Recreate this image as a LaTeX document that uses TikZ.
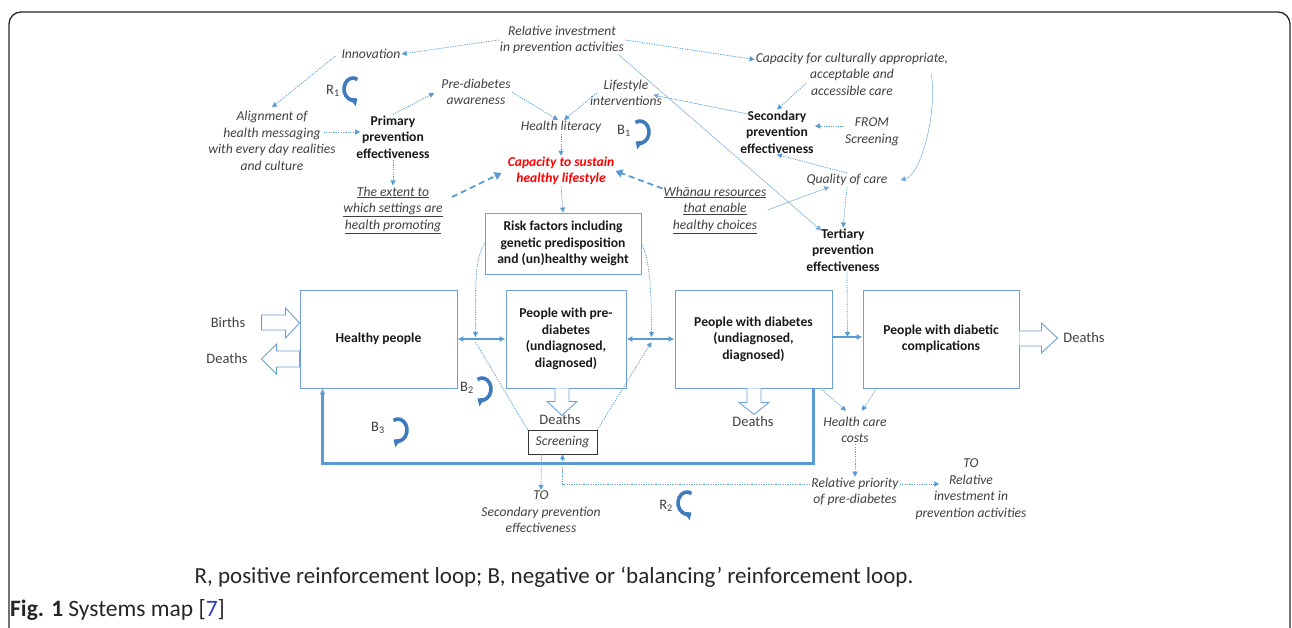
\documentclass[tikz,border=0pt]{standalone}
\usepackage{fontspec}
\setmainfont{Carlito}
\usetikzlibrary{arrows.meta}
\definecolor{lblue}{RGB}{91,155,213}
\definecolor{bblue}{RGB}{110,160,215}
\definecolor{dblue}{RGB}{62,122,188}
\definecolor{tgray}{RGB}{64,64,64}
\definecolor{tred}{RGB}{255,0,0}
\definecolor{refblue}{RGB}{40,60,200}
\begin{document}
\begin{tikzpicture}[x=1pt,y=-1pt,
  lab/.style={font=\fontsize{13.6}{16.5}\selectfont\itshape, text=tgray, align=center, inner sep=1pt},
  bld/.style={font=\fontsize{13.6}{16.5}\selectfont\bfseries, text=black!90, align=center, inner sep=1pt},
  stock/.style={draw=bblue, line width=0.9pt, bld},
  reg/.style={font=\fontsize{14.5}{16}\selectfont, text=tgray, inner sep=1pt},
  dot/.style={draw=lblue, line width=0.8pt, dash pattern=on 1.2pt off 1.2pt, -{Triangle[length=5pt,width=5pt]}},
  solidln/.style={draw=lblue!85, line width=0.5pt, -{Triangle[length=5pt,width=5pt]}},
  dsh/.style={draw=lblue, line width=1.8pt, dash pattern=on 6pt off 4pt, -{Triangle[length=7pt,width=8pt]}},
  flow/.style={draw=lblue, line width=2pt},
  hollow/.style={draw=bblue, line width=0.9pt, fill=white},
  loopsym/.style={draw=dblue, line width=3.6pt, -{Triangle[length=6pt,width=10pt]}},
]
\useasboundingbox (0,0) rectangle (1292,628);
\begin{scope}
\clip (0,0) rectangle (1292,628);
\draw[rounded corners=12pt, line width=1.3pt, draw=black!85] (9,12) rectangle (1290,700);
\end{scope}

% ---- text nodes (upper part)
\node[lab] (rel) at (562,40) {Relative investment\\in prevention activities};
\node[lab] (innov) at (371,54) {Innovation};
\node[lab] (cap) at (852,74) {Capacity for culturally appropriate,\\acceptable and\\accessible care};
\node[lab] (pda) at (476,92) {Pre-diabetes\\awareness};
\node[lab] (life) at (626,93) {Lifestyle\\interventions};
\node[lab] (align) at (272,141) {Alignment of\\health messaging\\with every day realities\\and culture};
\node[bld] (prim) at (393,137) {Primary\\prevention\\effectiveness};
\node[lab] (hlit) at (561,127) {Health literacy};
\node[bld] (sec) at (777,132) {Secondary\\prevention\\effectiveness};
\node[lab] (fromscr) at (872,132) {FROM\\Screening};
\node[lab, text=tred, font=\fontsize{13.6}{16.5}\selectfont\bfseries\itshape] (sust) at (561,171) {Capacity to sustain\\healthy lifestyle};
\node[lab] (extent) at (393,210) {\underline{The extent to}\\\underline{which settings are}\\\underline{health promoting}};
\node[lab] (whanau) at (715,210) {\underline{Whānau resources}\\\underline{that enable}\\\underline{healthy choices}};
\node[lab] (qual) at (847,180) {Quality of care};
\node[bld] (tert) at (843,250) {Tertiary\\prevention\\effectiveness};

% ---- stocks
\node[stock, minimum width=156pt, minimum height=61pt] (risk) at (563,243.5) {Risk factors including\\genetic predisposition\\and (un)healthy weight};
\node[stock, minimum width=157pt, minimum height=98pt] (healthy) at (378.5,339) {Healthy people};
\node[stock, minimum width=120pt, minimum height=98pt] (pre) at (566,339) {People with pre-\\diabetes\\(undiagnosed,\\diagnosed)};
\node[stock, minimum width=157pt, minimum height=98pt] (dia) at (753.5,339) {People with diabetes\\(undiagnosed,\\diagnosed)};
\node[stock, minimum width=156pt, minimum height=98pt] (comp) at (941,339) {People with diabetic\\complications};
\node[lab, draw=black!80, line width=0.8pt, minimum width=69pt, minimum height=24pt] (scr) at (562.5,442) {Screening};

% ---- lower text nodes
\node[lab] (hcc) at (855,430) {Health care\\costs};
\node[lab] (prio) at (855,492) {Relative priority\\of pre-diabetes};
\node[lab] (toRel) at (971,489) {TO\\Relative\\investment in\\prevention activities};
\node[lab] (toSec) at (541,512) {TO\\Secondary prevention\\effectiveness};

\node[reg] (births) at (228,323) {Births};
\node[reg] (deathsL) at (227,359) {Deaths};
\node[reg] (deathsP) at (560,420) {Deaths};
\node[reg] (deathsD) at (753,422) {Deaths};
\node[reg] (deathsR) at (1084,338) {Deaths};

% ---- hollow flow arrows
\draw[hollow] ([yshift=16pt]healthy.west) -- ++(-14,-15) -- ++(0,7) -- ++(-24,0) -- ++(0,15) -- ++(24,0) -- ++(0,8) -- cycle;
\draw[hollow] ([xshift=-38pt,yshift=-20pt]healthy.west) -- ++(15,-15) -- ++(0,7) -- ++(23,0) -- ++(0,16) -- ++(-23,0) -- ++(0,7) -- cycle;
\draw[hollow] ([xshift=-11pt]pre.south) -- ++(0,13) -- ++(-8,0) -- ++(15,14) -- ++(15,-14) -- ++(-8,0) -- ++(0,-13);
\draw[hollow] ([xshift=-6.5pt]dia.south) -- ++(0,14) -- ++(-8,0) -- ++(15,12) -- ++(15,-12) -- ++(-8,0) -- ++(0,-14);
\draw[hollow] ([yshift=8pt]comp.east) -- ++(22,0) -- ++(0,-8) -- ++(16,15) -- ++(-16,15) -- ++(0,-7) -- ++(-22,0);

% ---- main flows
\coordinate (j1) at ([xshift=18pt]healthy.east);
\coordinate (j2) at ([xshift=25pt]pre.east);
\coordinate (j3) at ([xshift=15pt,yshift=2pt]dia.east);
\draw[flow, {Latex[length=6pt,width=6pt]}-{Latex[length=6pt,width=6pt]}] (healthy.east) -- (pre.west);
\draw[flow, {Latex[length=6pt,width=6pt]}-{Latex[length=6pt,width=6pt]}] (pre.east) -- (dia.west);
\draw[flow, -{Latex[length=6pt,width=6pt]}] ([yshift=2pt]dia.east) -- ([yshift=2pt]comp.west);
\draw[flow, line width=2.2pt, -{Latex[length=6pt,width=6pt]}] ([xshift=-19pt]dia.south east) -- ++(0,75) -| ([xshift=23pt]healthy.south west);

% ---- information links (upper)
\draw[dot] (rel.west) -- (innov.east);
\draw[dot] (rel.east) -- ([yshift=-8pt]cap.north west);
\draw[solidln] ([xshift=-6pt]rel.south east) -- ([xshift=16pt,yshift=-3pt]tert.north west);
\draw[dot] ([xshift=-5pt,yshift=-2pt]innov.west) -- ([yshift=3pt]align.north);
\draw[dot] ([xshift=-13pt,yshift=9pt]align.east) -- ([xshift=5pt,yshift=5pt]prim.west);
\draw[dot] (prim.north) -- ([xshift=-6pt,yshift=-1pt]pda.west);
\draw[dot] (prim.south) -- (extent.north);
\draw[dot] (pda.east) -- ([xshift=-3pt]hlit.north);
\draw[dot] ([xshift=8pt]life.west) -- ([xshift=3pt]hlit.north);
\draw[dot] (hlit.south) -- (sust.north);
\draw[dsh] ([xshift=8pt,yshift=13pt]extent.east) -- ([xshift=-5pt,yshift=-2pt]sust.west);
\draw[dsh] ([yshift=-3pt]whanau.north west) -- (sust.east);
\draw[dot] (sust.south) -- (risk.north);
\draw[solidln] ([xshift=11pt,yshift=-5pt]sec.north west) -- ([xshift=-10pt,yshift=-2pt]life.east);
\draw[dot] ([xshift=-46pt,yshift=13pt]cap.south) -- (sec.north);
\draw[solidln] ([xshift=-18pt]cap.east) .. controls +(6,40) and +(20,-5) .. ([xshift=12pt]qual.east);
\draw[dot] ([yshift=6pt]fromscr.west) -- ([yshift=6pt]sec.east);
\draw[dot] (qual.north) -- (sec.south);
\draw[solidln] (whanau.east) -- ([xshift=24pt]qual.south west);
\draw[dot] (qual.south) -- (tert.north);
\draw[dot] ([xshift=4pt]tert.south) -- (j3);

% ---- links to the flows
\draw[dot] (risk.west) .. controls +(-10,15) and +(0,-50) .. ([yshift=2pt]j1);
\draw[dot] (risk.east) .. controls +(8,15) and +(0,-50) .. ([yshift=2pt]j2);
\draw[dot, -] (scr.north west) -- ([yshift=-3pt]j1);
\draw[dot] (scr.north east) -- ([yshift=-3pt]j2);

% ---- information links (lower)
\draw[dot] ([xshift=-12pt]dia.south east) -- ([xshift=-9pt,yshift=5pt]hcc.north);
\draw[dot] ([xshift=14pt]comp.south west) -- ([xshift=7pt,yshift=5pt]hcc.north);
\draw[dot] (hcc.south) -- (prio.north);
\draw[dot] ([yshift=8pt]prio.east) -- ([xshift=25pt,yshift=5pt]toRel.west);
\draw[dot] ([yshift=8pt]prio.west) -| (scr.south);
\draw[dot] ([xshift=-21pt]scr.south) -- (toSec.north);

% ---- loop markers (radii and angles in canvas units)
\node[reg] (r1) at (333,91) {R\textsubscript{1}};
\draw[loopsym] (353,89) ++(60:9pt and 11pt) arc[start angle=60, end angle=300, x radius=9pt, y radius=11pt];
\node[reg] (b1) at (624,131) {B\textsubscript{1}};
\draw[loopsym] (640,132) ++(120:9pt and 11pt) arc[start angle=120, end angle=-120, x radius=9pt, y radius=11pt];
\node[reg] (b2) at (467,388) {B\textsubscript{2}};
\draw[loopsym] (482,389) ++(120:9pt and 11pt) arc[start angle=120, end angle=-120, x radius=9pt, y radius=11pt];
\node[reg] (b3) at (378,428) {B\textsubscript{3}};
\draw[loopsym] (398,430) ++(120:9pt and 11pt) arc[start angle=120, end angle=-120, x radius=9pt, y radius=11pt];
\node[reg] (r2) at (666,506) {R\textsubscript{2}};
\draw[loopsym] (687,503) ++(60:9pt and 11pt) arc[start angle=60, end angle=300, x radius=9pt, y radius=11pt];

% ---- caption
\node[font=\fontsize{23}{24}\selectfont, text=black!85, inner sep=0] (legend) at (554,577) {R, positive reinforcement loop; B, negative or ‘balancing’ reinforcement loop.};
\node[anchor=west, font=\fontsize{23.5}{24}\selectfont, text=black!85, inner sep=0] (fig) at (10,610) {\textbf{Fig. 1} Systems map [\textcolor{refblue}{7}]};
\end{tikzpicture}
\end{document}
